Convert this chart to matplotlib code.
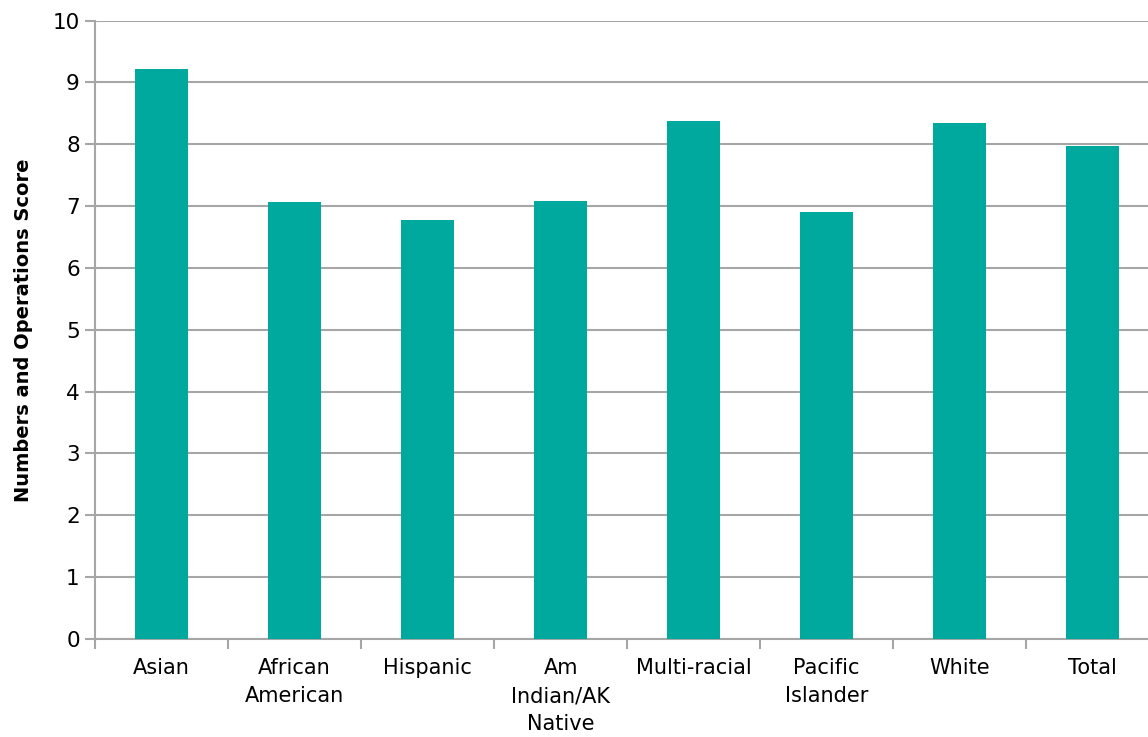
import matplotlib.pyplot as plt
import numpy as np

categories = ["Asian", "African\nAmerican", "Hispanic", "Am\nIndian/AK\nNative",
              "Multi-racial", "Pacific\nIslander", "White", "Total"]
scores = [9.21, 7.07, 6.77, 7.09, 8.37, 6.90, 8.35, 7.97]

bar_color = "#00A99D"
grid_color = "#A6A6A6"

plt.rcParams["font.family"] = ["DejaVu Sans"]

fig = plt.figure(figsize=(11.48, 7.37), dpi=100)
ax = fig.add_axes([0.0828, 0.133, 0.927, 0.839])

x = np.arange(len(categories))
ax.bar(x, scores, width=0.4, color=bar_color, zorder=3)

ax.set_xlim(-0.5, len(categories) - 0.5)
ax.set_ylim(0, 10)
ax.set_yticks(np.arange(0, 11, 1))
ax.yaxis.grid(True, color=grid_color, linewidth=1.5, zorder=0)

ax.set_xticks(x)
ax.set_xticklabels(categories, fontsize=15, linespacing=1.5)
ax.set_xticks(np.arange(-0.5, len(categories), 1), minor=True)
ax.tick_params(axis="x", which="major", length=0, pad=14)
ax.tick_params(axis="x", which="minor", length=7, width=1.5, color=grid_color)
ax.tick_params(axis="y", length=7, width=1.5, color=grid_color, labelsize=15.5, pad=4)

for side in ["top", "right"]:
    ax.spines[side].set_visible(False)
for side in ["left", "bottom"]:
    ax.spines[side].set_color(grid_color)
    ax.spines[side].set_linewidth(1.5)

ax.set_ylabel("Numbers and Operations Score", fontsize=14, fontweight="bold", labelpad=14)

fig.savefig("out.png", dpi=100)
